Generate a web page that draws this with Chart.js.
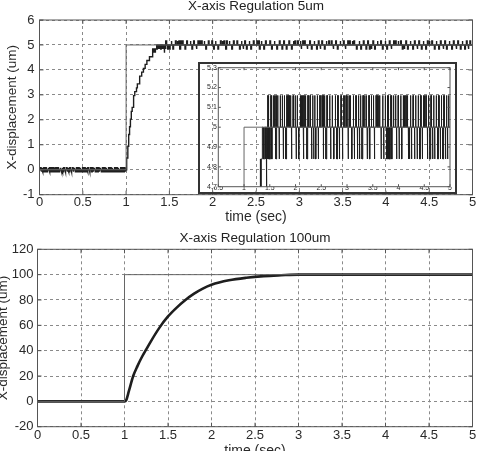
<!DOCTYPE html>
<html><head><meta charset="utf-8">
<script src="https://cdn.jsdelivr.net/npm/chart.js@4"></script>
<style>
html,body{margin:0;padding:0;background:#fff;overflow:hidden;width:481px;height:451px;position:relative;}
canvas{position:absolute;display:block;}
#c1{left:0;top:0;}
#c2{left:0;top:226px;}
#c3{left:198px;top:62px;z-index:2;}
</style></head><body>
<canvas id="c1" width="481" height="226"></canvas>
<canvas id="c2" width="481" height="234"></canvas>
<canvas id="c3" width="259" height="132"></canvas>
<script>
// ---------------- data ----------------
const xTicks = [0,0.5,1,1.5,2,2.5,3,3.5,4,4.5,5];
const yTicks5 = [-1,0,1,2,3,4,5,6];
const yTicks100 = [-20,0,20,40,60,80,100,120];
const insetXTicks = [0.5,1,1.5,2,2.5,3,3.5,4,4.5,5];
const insetYTicks = [4.7,4.8,4.9,5,5.1,5.2,5.3];

// reference (set-point) signals
const ref5T = [0,1,1,5];
const ref5Y = [0,0,5,5];
const ref100T = [0,1,1,5];
const ref100Y = [0,0,100,100];

// 5um response: noise around 0 before the step
const zeroUp = [0.01,0.03,0.05,0.07,0.1,0.12,0.14,0.16,0.19,0.21,0.24,0.26,0.28,0.31,0.33,0.35,0.38,0.4,0.43,0.45,0.47,0.5,0.52,0.54,0.56,0.59,0.61,0.63,0.66,0.68,0.7,0.73,0.75,0.77,0.8,0.82,0.84,0.87,0.89,0.91,0.94,0.96,0.98];
const zeroDown = [0.02,0.04,0.06,0.085,0.11,0.13,0.15,0.175,0.2,0.225,0.25,0.27,0.295,0.32,0.34,0.365,0.39,0.415,0.44,0.46,0.485,0.51,0.53,0.55,0.575,0.6,0.62,0.645,0.67,0.69,0.715,0.74,0.76,0.785,0.81,0.83,0.855,0.88,0.9,0.925,0.95,0.97,0.99];
const zeroNoise = 0.078;
// 5um response: quantised rise
const riseT = [1.0,1.01,1.02,1.03,1.04,1.05,1.06,1.07,1.08,1.09,1.10,1.12,1.13,1.15,1.16,1.18,1.20,1.22,1.24,1.27,1.30,
               1.31,1.315,1.32,1.325,1.33,1.335,1.34,1.35,1.355,1.36,1.37,1.375,1.385,1.39,1.40,1.405,1.415,1.42,1.43,1.435,1.44,1.445];
const riseY = [0.16,0.47,0.94,1.41,1.72,2.03,2.34,2.5,2.66,2.97,3.13,3.28,3.44,3.59,3.75,3.91,4.06,4.22,4.38,4.53,4.69,
               4.84,4.69,4.84,4.69,4.84,4.69,4.84,5,4.84,5,4.84,5,4.84,5,4.84,5,4.84,5,4.84,5,4.69,5];
// 5um response: steady-state quantisation spikes
const steadyLevel = 5, steadyHigh = 5.16, steadyLow = 4.84;
const upSpikes = [1.46,1.52,1.57,1.59,1.61,1.63,1.65,1.70,1.74,1.78,1.83,1.85,1.87,1.90,1.95,1.99,2.03,2.09,2.11,2.13,2.16,2.19,2.24,2.28,2.33,2.37,2.42,2.47,2.51,2.53,2.56,2.61,2.66,2.71,2.77,2.82,2.88,2.93,2.95,2.98,3.01,3.04,3.06,3.12,3.17,3.22,3.26,3.31,3.34,3.37,3.42,3.47,3.51,3.56,3.58,3.61,3.63,3.69,3.74,3.79,3.85,3.90,3.94,3.99,4.04,4.09,4.11,4.14,4.17,4.23,4.28,4.33,4.38,4.43,4.48,4.50,4.53,4.58,4.63,4.68,4.73,4.78,4.83,4.88,4.93,4.97];
const downSpikes = [1.45,1.48,1.50,1.54,1.62,1.68,1.76,1.81,1.92,2.01,2.06,2.15,2.22,2.31,2.35,2.39,2.44,2.54,2.59,2.68,2.74,2.80,2.85,2.91,3.02,3.09,3.14,3.20,3.24,3.29,3.39,3.44,3.53,3.66,3.71,3.77,3.81,3.83,3.87,3.96,4.01,4.06,4.19,4.21,4.25,4.31,4.36,4.41,4.46,4.56,4.61,4.66,4.70,4.76,4.81,4.86,4.91,4.95];
const spikeWidth = 0.008;

// 100um response
const resp100T = [0,1.0,1.02,1.05,1.1,1.15,1.2,1.25,1.3,1.4,1.5,1.6,1.7,1.8,1.9,2.0,2.2,2.4,2.6,2.8,3.0,3.5,4.0,4.5,5.0];
const resp100Y = [0,0,1,8,20,28,35,41,47,58,67,74,80,85,89,92,95.5,97.5,98.8,99.5,100,100,100,100,100];

// ---------------- build series ----------------
const zip = (t, y) => t.map((v, i) => ({x: v, y: y[i]}));
function buildResp5() {
  const pts = [{x:0, y:0}];
  const zev = zeroUp.map(t => [t, zeroNoise]).concat(zeroDown.map(t => [t, -zeroNoise])).sort((a,b)=>a[0]-b[0]);
  for (const [t, v] of zev) pts.push({x:t,y:0},{x:t,y:v},{x:t+spikeWidth,y:v},{x:t+spikeWidth,y:0});
  let prev = 0;
  riseT.forEach((t, i) => { pts.push({x:t,y:prev},{x:t,y:riseY[i]}); prev = riseY[i]; });
  const sev = upSpikes.map(t => [t, steadyHigh]).concat(downSpikes.map(t => [t, steadyLow])).sort((a,b)=>a[0]-b[0]);
  for (const [t, v] of sev) pts.push({x:t,y:steadyLevel},{x:t,y:v},{x:t+spikeWidth,y:v},{x:t+spikeWidth,y:steadyLevel});
  pts.push({x:5, y:steadyLevel});
  return pts;
}
const resp5 = buildResp5();

// ---------------- helpers ----------------
Chart.defaults.font.family = "'Liberation Sans', Arial, Helvetica, sans-serif";
Chart.defaults.color = '#2a2a2a';

function framePlugin(tickLen, boxColor, outer) {
  return {
    id: 'frame',
    afterDraw(chart) {
      const {ctx, chartArea: a, scales: {x, y}} = chart;
      ctx.save();
      ctx.strokeStyle = boxColor; ctx.lineWidth = 1;
      ctx.strokeRect(a.left, a.top, a.right - a.left, a.bottom - a.top);
      ctx.beginPath();
      x.ticks.forEach(t => { const p = x.getPixelForValue(t.value);
        ctx.moveTo(p, a.bottom); ctx.lineTo(p, a.bottom - tickLen);
        ctx.moveTo(p, a.top); ctx.lineTo(p, a.top + tickLen); });
      y.ticks.forEach(t => { const p = y.getPixelForValue(t.value);
        ctx.moveTo(a.left, p); ctx.lineTo(a.left + tickLen, p);
        ctx.moveTo(a.right, p); ctx.lineTo(a.right - tickLen, p); });
      ctx.stroke();
      if (outer) { ctx.strokeStyle = '#333'; ctx.lineWidth = 2;
        ctx.strokeRect(1, 1, chart.width - 2, chart.height - 2); }
      ctx.restore();
    }
  };
}
const setTicks = arr => s => { s.ticks = arr.map(v => ({value: v})); };
const gridOpts = {color: '#8a8a8a', lineWidth: 1, drawTicks: false};
const borderOpts = {display: false, dash: [3, 3]};

function mainChart(id, o) {
  return new Chart(document.getElementById(id), {
    type: 'line',
    data: { datasets: [
      {data: o.ref, borderColor: '#666', borderWidth: 1, pointRadius: 0, tension: 0},
      {data: o.resp, borderColor: '#1e1e1e', borderWidth: o.respWidth, pointRadius: 0,
       tension: o.smooth ? 0.4 : 0, cubicInterpolationMode: o.smooth ? 'monotone' : 'default'}
    ]},
    options: {
      responsive: false, animation: false, devicePixelRatio: 1,
      events: [],
      layout: {padding: {left: 0, right: 8.5, top: 0, bottom: 0}},
      plugins: {
        legend: {display: false}, tooltip: {enabled: false},
        title: {display: true, text: o.title, fullSize: false, color: '#222',
          font: {size: 13.5, weight: 'normal', lineHeight: 1}, padding: o.titlePad}
      },
      scales: {
        x: {type: 'linear', min: 0, max: 5, grid: gridOpts, border: borderOpts,
          afterBuildTicks: setTicks(xTicks), afterFit: s => { s.height = o.xh; },
          ticks: {padding: o.xpad, font: {size: 13}, maxRotation: 0, autoSkip: false, callback: v => String(v)},
          title: {display: true, text: 'time (sec)', font: {size: 14}, padding: {top: 0, bottom: 0}}},
        y: {type: 'linear', min: o.ymin, max: o.ymax, grid: gridOpts, border: borderOpts,
          afterBuildTicks: setTicks(o.yticks), afterFit: s => { s.width = o.yw; },
          ticks: {padding: o.ypad, font: {size: 13}, autoSkip: false, callback: v => String(v)},
          title: {display: true, text: 'X-displacement (um)', font: {size: 13.5}, padding: {top: o.ytitlePad, bottom: 0}}}
      }
    },
    plugins: [framePlugin(4, '#555', false)]
  });
}

mainChart('c1', {ref: zip(ref5T, ref5Y), resp: resp5, respWidth: 1.4, smooth: false,
  title: 'X-axis Regulation 5um', titlePad: {top: 0, bottom: 6.5},
  xh: 31.3, xpad: 0, yw: 39.5, ypad: 5, ytitlePad: 4.5,
  ymin: -1, ymax: 6, yticks: yTicks5});

mainChart('c2', {ref: zip(ref100T, ref100Y), resp: zip(resp100T, resp100Y), respWidth: 2.6, smooth: true,
  title: 'X-axis Regulation 100um', titlePad: {top: 5.55, bottom: 4.25},
  xh: 33.3, xpad: 0.5, yw: 37.5, ypad: 4, ytitlePad: -5,
  ymin: -20, ymax: 120, yticks: yTicks100});

// inset
new Chart(document.getElementById('c3'), {
  type: 'line',
  data: { datasets: [
    {data: zip(ref5T, ref5Y), borderColor: '#666', borderWidth: 1, pointRadius: 0, tension: 0},
    {data: resp5, borderColor: '#1e1e1e', borderWidth: 1, pointRadius: 0, tension: 0}
  ]},
  options: {
    responsive: false, animation: false, devicePixelRatio: 1, events: [],
    layout: {padding: {left: 0, right: 7, top: 4.7, bottom: 0}},
    plugins: {legend: {display: false}, tooltip: {enabled: false}},
    scales: {
      x: {type: 'linear', min: 0.5, max: 5, grid: {display: false, drawTicks: false}, border: {display: false},
        afterBuildTicks: setTicks(insetXTicks), afterFit: s => { s.height = 7.3; },
        ticks: {padding: -2.9, font: {size: 7}, maxRotation: 0, autoSkip: false, callback: v => String(v)}},
      y: {type: 'linear', min: 4.7, max: 5.3, grid: {display: false, drawTicks: false}, border: {display: false},
        afterBuildTicks: setTicks(insetYTicks), afterFit: s => { s.width = 20.3; },
        ticks: {padding: 1.5, font: {size: 7}, autoSkip: false, callback: v => String(v)}}
    }
  },
  plugins: [framePlugin(2.5, '#555', true)]
});
</script>
</body></html>
